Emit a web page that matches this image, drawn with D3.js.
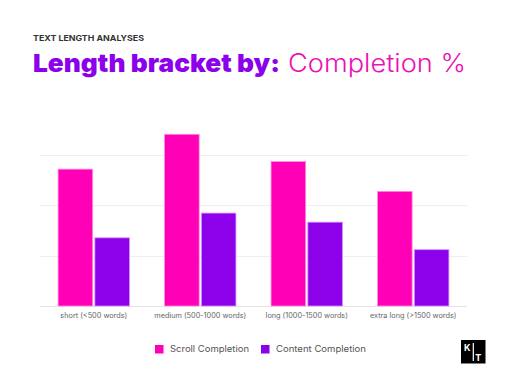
<!DOCTYPE html>
<html>
<head>
<meta charset="utf-8">
<script src="https://cdn.jsdelivr.net/npm/d3@7"></script>
<style>
  body { margin: 0; background: #fff; }
  svg { display: block; font-family: "Inter", "Open Sans", sans-serif; }
</style>
</head>
<body>
<div id="container"></div>
<script>
// chart data
const brackets = ["short (<500 words)", "medium (500-1000 words)", "long (1000-1500 words)", "extra long (>1500 words)"];
const seriesNames = ["Scroll Completion", "Content Completion"];
const scrollCompletion = [54.2, 68.0, 57.2, 45.4];
const contentCompletion = [27.0, 36.8, 33.2, 22.3];
const gridTicks = [0, 20, 40, 60];

const width = 510;
const height = 383;
const margin = { top: 104, right: 43, bottom: 77, left: 40 };
const colors = ["#ff00b6", "#8d00ea"];
const strokes = ["#ff8ade", "#d690ff"];

// squeeze/stretch a text element to a measured width from the reference
function fitWidth(sel, w) {
    sel.attr("textLength", w).attr("lengthAdjust", "spacingAndGlyphs");
}

const svg = d3.select("#container")
    .append("svg")
    .attr("width", width)
    .attr("height", height);

// titles
svg.append("text")
    .attr("x", 33)
    .attr("y", 40.5)
    .attr("font-size", "8px")
    .attr("font-weight", 700)
    .attr("fill", "#333")
    .text("TEXT LENGTH ANALYSES")
    .call(fitWidth, 111);

svg.append("text")
    .attr("x", 33)
    .attr("y", 72)
    .attr("font-size", "25px")
    .attr("font-weight", 900)
    .attr("fill", "#8d00ea")
    .text("Length bracket by:")
    .call(fitWidth, 247);

svg.append("text")
    .attr("x", 288)
    .attr("y", 72)
    .attr("font-size", "25px")
    .attr("font-weight", 300)
    .attr("fill", "#ee0fb4")
    .text("Completion %")
    .call(fitWidth, 178);

const x0 = d3.scaleBand()
    .domain(brackets)
    .range([margin.left, width - margin.right])
    .paddingInner(0.33)
    .paddingOuter(0.17);

const x1 = d3.scaleBand()
    .domain(seriesNames)
    .range([0, x0.bandwidth()])
    .paddingInner(0.06);

const y = d3.scaleLinear()
    .domain([0, 60])
    .range([height - margin.bottom, height - margin.bottom - 151.5]);

// gridlines
svg.append("g")
    .selectAll("line")
    .data(gridTicks)
    .join("line")
    .attr("x1", margin.left)
    .attr("x2", width - margin.right)
    .attr("y1", d => Math.round(y(d)) + 0.5)
    .attr("y2", d => Math.round(y(d)) + 0.5)
    .attr("stroke", d => d === 0 ? "#e4e4e4" : "#efefef")
    .attr("stroke-width", 1);

// bars
const rows = brackets.map((b, i) => ({ bracket: b, values: [scrollCompletion[i], contentCompletion[i]] }));

svg.append("g")
    .selectAll("g")
    .data(rows)
    .join("g")
    .attr("transform", d => `translate(${x0(d.bracket)},0)`)
    .selectAll("rect")
    .data(d => d.values.map((v, j) => ({ key: seriesNames[j], value: v, j })))
    .join("rect")
    .attr("x", d => x1(d.key))
    .attr("y", d => y(d.value))
    .attr("width", x1.bandwidth())
    .attr("height", d => y(0) - y(d.value))
    .attr("fill", d => colors[d.j])
    .attr("stroke", d => strokes[d.j])
    .attr("stroke-width", 0.8);

// category labels
svg.append("g")
    .attr("transform", `translate(0,${y(0)})`)
    .call(d3.axisBottom(x0).tickSize(0).tickPadding(7))
    .call(g => g.select(".domain").remove())
    .selectAll("text")
    .attr("font-family", "Inter, 'Open Sans', sans-serif")
    .attr("font-size", "7.3px")
    .attr("fill", "#666");

// legend
const legendX = [155, 261];
const legendW = [79, 90];
const legend = svg.append("g")
    .selectAll("g")
    .data(seriesNames)
    .join("g")
    .attr("transform", (d, i) => `translate(${legendX[i]},345)`);
legend.append("rect")
    .attr("width", 8.5)
    .attr("height", 8.5)
    .attr("fill", (d, i) => colors[i]);
legend.append("text")
    .attr("x", 15)
    .attr("y", 7.3)
    .attr("font-size", "8.4px")
    .attr("fill", "#555")
    .text(d => d)
    .each(function(d, i) { d3.select(this).call(fitWidth, legendW[i]); });

// logo
const logo = svg.append("g").attr("transform", "translate(461,340)");
logo.append("rect").attr("width", 24.5).attr("height", 23.5).attr("fill", "#000");
logo.append("line")
    .attr("x1", 12.3).attr("x2", 12.3).attr("y1", 3).attr("y2", 21)
    .attr("stroke", "#fff").attr("stroke-width", 1.2);
logo.append("text")
    .attr("x", 3).attr("y", 10.5)
    .attr("font-size", "9px").attr("font-weight", 700).attr("fill", "#fff")
    .text("K");
logo.append("text")
    .attr("x", 14.2).attr("y", 21)
    .attr("font-size", "9px").attr("font-weight", 700).attr("fill", "#fff")
    .text("T");
</script>
</body>
</html>
